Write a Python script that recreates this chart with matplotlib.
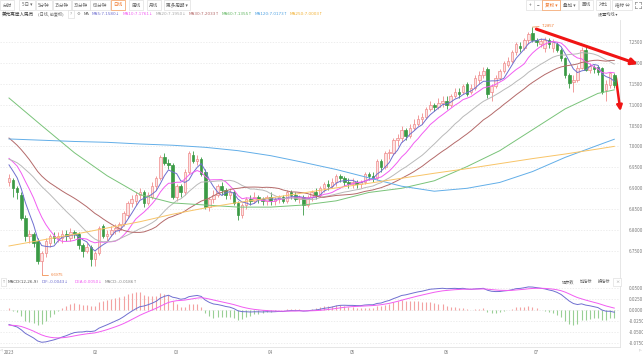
import numpy as np
import pandas as pd
import matplotlib
matplotlib.use("Agg")
import matplotlib.pyplot as plt
from matplotlib.lines import Line2D

plt.rcParams['font.family'] = ['Noto Sans CJK SC', 'DejaVu Sans']

# daily candles, 2023-01-03 .. 2023-07-28
opens = [6.915, 6.920, 6.900, 6.885, 6.830, 6.785, 6.790, 6.775, 6.725, 6.745,
         6.770, 6.785, 6.780, 6.780, 6.790, 6.782, 6.795, 6.790, 6.765, 6.750,
         6.760, 6.730, 6.745, 6.810, 6.785, 6.790, 6.800, 6.800, 6.815, 6.835,
         6.865, 6.870, 6.885, 6.890, 6.865, 6.880, 6.905, 6.925, 6.975, 6.960,
         6.955, 6.880, 6.905, 6.890, 6.940, 6.980, 6.965, 6.970, 6.940, 6.855,
         6.875, 6.885, 6.905, 6.895, 6.885, 6.890, 6.865, 6.835, 6.860, 6.875,
         6.870, 6.880, 6.875, 6.870, 6.880, 6.870, 6.875, 6.880, 6.870, 6.890,
         6.885, 6.875, 6.880, 6.860, 6.880, 6.890, 6.885, 6.900, 6.910, 6.905,
         6.915, 6.930, 6.925, 6.915, 6.910, 6.915, 6.910, 6.915, 6.935, 6.930,
         6.925, 6.965, 6.950, 6.985, 6.985, 7.015, 7.020, 7.040, 7.025, 7.045,
         7.055, 7.065, 7.070, 7.090, 7.100, 7.095, 7.105, 7.110, 7.100, 7.120,
         7.130, 7.130, 7.150, 7.130, 7.140, 7.160, 7.170, 7.185, 7.130, 7.145,
         7.165, 7.180, 7.195, 7.205, 7.225, 7.240, 7.235, 7.255, 7.272, 7.255,
         7.245, 7.235, 7.255, 7.235, 7.245, 7.232, 7.212, 7.172, 7.155, 7.160,
         7.188, 7.232, 7.183, 7.190, 7.190, 7.188, 7.135, 7.148, 7.172]
highs = [6.935, 6.925, 6.905, 6.890, 6.835, 6.800, 6.795, 6.780, 6.750, 6.780,
         6.790, 6.795, 6.795, 6.800, 6.800, 6.805, 6.800, 6.795, 6.770, 6.770,
         6.765, 6.750, 6.810, 6.815, 6.800, 6.810, 6.815, 6.820, 6.845, 6.870,
         6.885, 6.890, 6.900, 6.895, 6.890, 6.915, 6.930, 6.980, 6.985, 6.970,
         6.960, 6.910, 6.910, 6.945, 6.990, 6.990, 6.980, 6.975, 6.945, 6.880,
         6.895, 6.910, 6.915, 6.900, 6.900, 6.895, 6.870, 6.865, 6.880, 6.885,
         6.890, 6.885, 6.880, 6.885, 6.890, 6.880, 6.885, 6.885, 6.895, 6.895,
         6.890, 6.885, 6.885, 6.885, 6.895, 6.900, 6.905, 6.915, 6.920, 6.925,
         6.935, 6.935, 6.930, 6.925, 6.925, 6.920, 6.920, 6.940, 6.940, 6.940,
         6.970, 6.970, 6.990, 6.995, 7.020, 7.030, 7.050, 7.045, 7.055, 7.065,
         7.075, 7.080, 7.095, 7.110, 7.105, 7.115, 7.120, 7.120, 7.125, 7.140,
         7.140, 7.150, 7.155, 7.150, 7.170, 7.180, 7.190, 7.190, 7.150, 7.170,
         7.185, 7.205, 7.215, 7.230, 7.250, 7.250, 7.260, 7.275, 7.2857, 7.260,
         7.260, 7.262, 7.260, 7.258, 7.250, 7.235, 7.215, 7.175, 7.170, 7.195,
         7.238, 7.240, 7.200, 7.195, 7.195, 7.190, 7.160, 7.178, 7.175]
lows = [6.905, 6.880, 6.875, 6.825, 6.775, 6.770, 6.760, 6.720, 6.6975, 6.735,
        6.760, 6.770, 6.772, 6.770, 6.775, 6.775, 6.780, 6.755, 6.735, 6.745,
        6.715, 6.715, 6.740, 6.780, 6.775, 6.785, 6.790, 6.795, 6.810, 6.830,
        6.855, 6.860, 6.875, 6.855, 6.860, 6.875, 6.895, 6.920, 6.955, 6.945,
        6.875, 6.870, 6.880, 6.885, 6.935, 6.960, 6.955, 6.930, 6.850, 6.845,
        6.865, 6.880, 6.885, 6.875, 6.875, 6.860, 6.825, 6.830, 6.850, 6.860,
        6.865, 6.865, 6.860, 6.860, 6.860, 6.860, 6.865, 6.865, 6.865, 6.875,
        6.870, 6.865, 6.835, 6.855, 6.870, 6.875, 6.880, 6.890, 6.895, 6.900,
        6.905, 6.915, 6.905, 6.900, 6.900, 6.900, 6.900, 6.910, 6.920, 6.915,
        6.920, 6.940, 6.945, 6.970, 6.980, 7.000, 7.010, 7.015, 7.020, 7.040,
        7.050, 7.055, 7.065, 7.085, 7.085, 7.090, 7.095, 7.090, 7.095, 7.115,
        7.115, 7.125, 7.120, 7.125, 7.135, 7.150, 7.165, 7.115, 7.110, 7.140,
        7.160, 7.175, 7.190, 7.200, 7.220, 7.225, 7.230, 7.245, 7.250, 7.240,
        7.238, 7.225, 7.235, 7.225, 7.225, 7.205, 7.165, 7.140, 7.130, 7.155,
        7.185, 7.180, 7.175, 7.175, 7.170, 7.125, 7.110, 7.140, 7.140]
closes = [6.925, 6.900, 6.890, 6.830, 6.785, 6.790, 6.770, 6.725, 6.745, 6.775,
          6.785, 6.780, 6.785, 6.790, 6.785, 6.795, 6.790, 6.765, 6.750, 6.760,
          6.730, 6.745, 6.805, 6.785, 6.790, 6.800, 6.805, 6.815, 6.840, 6.865,
          6.875, 6.885, 6.890, 6.865, 6.885, 6.905, 6.925, 6.975, 6.960, 6.955,
          6.880, 6.905, 6.890, 6.940, 6.985, 6.965, 6.970, 6.935, 6.855, 6.875,
          6.885, 6.905, 6.895, 6.885, 6.890, 6.865, 6.835, 6.860, 6.875, 6.870,
          6.880, 6.875, 6.870, 6.880, 6.870, 6.875, 6.880, 6.870, 6.890, 6.885,
          6.875, 6.880, 6.860, 6.880, 6.890, 6.885, 6.900, 6.910, 6.905, 6.915,
          6.930, 6.925, 6.915, 6.910, 6.915, 6.910, 6.915, 6.935, 6.930, 6.925,
          6.965, 6.950, 6.985, 6.985, 7.015, 7.020, 7.040, 7.025, 7.045, 7.055,
          7.065, 7.070, 7.090, 7.100, 7.095, 7.105, 7.110, 7.100, 7.120, 7.130,
          7.125, 7.145, 7.125, 7.140, 7.165, 7.170, 7.180, 7.125, 7.145, 7.165,
          7.180, 7.200, 7.205, 7.225, 7.245, 7.235, 7.255, 7.270, 7.255, 7.250,
          7.252, 7.255, 7.245, 7.250, 7.232, 7.212, 7.172, 7.152, 7.160, 7.188,
          7.232, 7.183, 7.193, 7.185, 7.178, 7.130, 7.150, 7.175, 7.148]
# closes before the window (late Nov / Dec 2022), needed by the short MAs and MACD
hist_closes = [7.150, 7.160, 7.145, 7.135, 7.160, 7.185, 7.150, 7.075, 7.040, 7.015,
               6.975, 6.985, 6.975, 6.965, 6.960, 6.965, 6.955, 6.960, 6.965, 6.970,
               6.985, 6.990, 6.995, 6.985, 6.980, 6.975, 6.970, 6.960, 6.950]

# long MAs
long_ma_idx = [0, 8, 16, 24, 32, 40, 48, 56, 64, 72, 80, 88, 96, 104, 112, 120, 128, 136, 144, 148]
ma60_vals = [7.116, 7.050, 6.985, 6.930, 6.885, 6.865, 6.860, 6.855, 6.855, 6.860,
             6.870, 6.890, 6.900, 6.918, 6.952, 6.990, 7.040, 7.090, 7.127, 7.1355]
ma120_vals = [7.018, 7.015, 7.012, 7.010, 7.006, 7.003, 6.998, 6.990, 6.978, 6.962,
              6.945, 6.925, 6.905, 6.893, 6.900, 6.914, 6.940, 6.974, 7.003, 7.0173]
ma250_vals = [6.762, 6.776, 6.790, 6.805, 6.820, 6.838, 6.853, 6.866, 6.877, 6.889,
              6.901, 6.912, 6.924, 6.936, 6.947, 6.959, 6.971, 6.982, 6.994, 7.0003]

month_pos = [0, 21, 41, 64, 84, 107, 129]
month_labels = ['2023', '02', '03', '04', '05', '06', '07']
price_ticks = [6.75, 6.80, 6.85, 6.90, 6.95, 7.00, 7.05, 7.10, 7.15, 7.20, 7.25]
macd_ticks = [-0.075, -0.05, -0.025, 0.0, 0.025, 0.05]

W, H = 643, 355
FS = 3.3
SF = 3.0
fig = plt.figure(figsize=(W / 100, H / 100), dpi=100)


def fx(px):
    return px / W


def fy(py):
    return 1 - py / H


ax = fig.add_axes([0, fy(278), fx(620), (278 - 20) / H])
axm = fig.add_axes([0, fy(347), fx(620), (347 - 278) / H])

o = np.array(opens)
h = np.array(highs)
l = np.array(lows)
c = np.array(closes)
n = len(c)
x = np.arange(n)
up = c >= o

UP_EDGE, UP_FACE, DOWN = '#ef8c8c', '#fde3e3', '#3a9a45'
wick_col = np.where(up, UP_EDGE, DOWN)
ax.vlines(x, l, h, colors=wick_col, lw=0.6, zorder=3)
body_h = np.maximum(np.abs(c - o), 0.0015)
ax.bar(x, body_h, bottom=np.minimum(o, c), width=0.62,
       color=np.where(up, UP_FACE, DOWN), edgecolor=wick_col, linewidth=0.5, zorder=4)

# moving averages
full = pd.Series(hist_closes + closes)
k = len(hist_closes)
ma_cols = {5: '#6f6fd0', 10: '#f25cf2', 20: '#b9b9b9', 30: '#b46a6a'}
for p, col in ma_cols.items():
    ma = full.rolling(p).mean().values[k:]
    ax.plot(x, ma, color=col, lw=0.7, zorder=5)
ax.plot(long_ma_idx, ma60_vals, color='#79c379', lw=0.7, zorder=5)
ax.plot(long_ma_idx, ma120_vals, color='#62aee8', lw=0.7, zorder=5)
ax.plot(long_ma_idx, ma250_vals, color='#f8c467', lw=0.7, zorder=5)

# high / low marks
hi = int(np.argmax(h))
lo = int(np.argmin(l))
ax.annotate(f'{h[hi]:.4f}', xy=(hi, h[hi]), xytext=(hi + 2.3, h[hi] + 0.002),
            fontsize=SF, color='#f07a30', va='center',
            arrowprops=dict(arrowstyle='-', color='#f07a30', lw=0.5, shrinkA=0, shrinkB=0))
ax.annotate(f'{l[lo]:.4f}', xy=(lo, l[lo]), xytext=(lo + 2.3, l[lo] - 0.004),
            fontsize=SF, color='#f07a30', va='center',
            arrowprops=dict(arrowstyle='-', color='#f07a30', lw=0.5, shrinkA=0, shrinkB=0,
                            connectionstyle='angle,angleA=0,angleB=90,rad=0'))

# red trend arrows
ax.annotate('', xy=(154.4, 7.195), xytext=(128.3, 7.283), annotation_clip=False,
            arrowprops=dict(arrowstyle='-|>', color='#f01414', lw=2.2, mutation_scale=9))
ax.annotate('', xy=(149.6, 7.078), xytext=(148.3, 7.171), annotation_clip=False,
            arrowprops=dict(arrowstyle='-|>', color='#f01414', lw=1.8, mutation_scale=8))

ax.set_xlim(-2.2, 149.4)
ax.set_ylim(6.6854, 7.3026)
ax.set_yticks(price_ticks)
ax.set_yticklabels([f'{t:.4f}' for t in price_ticks])
ax.yaxis.tick_right()
ax.tick_params(axis='y', length=0, pad=6, labelsize=FS, labelcolor='#777777')
ax.set_xticks([])
ax.grid(axis='y', color='#e6e6e6', lw=0.5, ls=(0, (2, 2)))
for s in ['top', 'left']:
    ax.spines[s].set_visible(False)
for s in ['right', 'bottom']:
    ax.spines[s].set_color('#e2e2e2')
    ax.spines[s].set_linewidth(0.6)

# MACD panel
ema12 = full.ewm(span=12, adjust=False).mean()
ema26 = full.ewm(span=26, adjust=False).mean()
dif = ema12 - ema26
dea = dif.ewm(span=9, adjust=False).mean()
bar = 2 * (dif - dea)
dif, dea, bar = dif.values[k:], dea.values[k:], bar.values[k:]
axm.vlines(x, 0, bar, colors=np.where(bar >= 0, '#f3a2a2', '#99cf95'), lw=0.8)
axm.plot(x, dif, color='#6f6fd0', lw=0.7)
axm.plot(x, dea, color='#f25cf2', lw=0.7)
axm.set_xlim(-2.2, 149.4)
axm.set_ylim(-0.085, 0.072)
axm.set_yticks(macd_ticks)
axm.set_yticklabels([f'{t:.4f}' for t in macd_ticks])
axm.yaxis.tick_right()
axm.tick_params(axis='y', length=0, pad=6, labelsize=FS, labelcolor='#777777')
axm.set_xticks(month_pos)
axm.set_xticklabels(month_labels)
axm.tick_params(axis='x', length=0, pad=2.5, labelsize=FS, labelcolor='#777777')
axm.grid(axis='y', color='#e6e6e6', lw=0.5, ls=(0, (2, 2)))
for s in ['top', 'left']:
    axm.spines[s].set_visible(False)
for s in ['right', 'bottom']:
    axm.spines[s].set_color('#e2e2e2')
    axm.spines[s].set_linewidth(0.6)

# toolbar
box = dict(boxstyle='square,pad=0.5', fc='white', ec='#d8d8d8', lw=0.4)
obox = dict(boxstyle='square,pad=0.5', fc='white', ec='#f39a5a', lw=0.5)
tools = [('分时', 7), ('5日 ▾', 27), ('5分钟', 44), ('15分钟', 62), ('30分钟', 81),
         ('60分钟', 100), ('周线', 136), ('月线', 154), ('更多周期 ▾', 177)]
for t, px in tools:
    fig.text(fx(px), fy(5), t, fontsize=FS, color='#666666', ha='center', va='center', bbox=box)
fig.text(fx(118), fy(5), '日线', fontsize=FS, color='#f07a30', ha='center', va='center', bbox=obox)
rtools = [('+', 530), ('−', 538), ('叠加 ▾', 569), ('画线', 586), ('对比', 603), ('指标 ⇔', 622)]
for t, px in rtools:
    fig.text(fx(px), fy(5), t, fontsize=FS, color='#666666', ha='center', va='center', bbox=box)
fig.text(fx(551), fy(5), '复权 ▾', fontsize=FS, color='#f07a30', ha='center', va='center', bbox=obox)
# full-screen icon (four corners)
for cx, cy, dx, dy in [(635, 2, 1, 1), (641, 2, -1, 1), (635, 8, 1, -1), (641, 8, -1, -1)]:
    fig.add_artist(Line2D([fx(cx), fx(cx + 2 * dx)], [fy(cy), fy(cy)], color='#888888', lw=0.5))
    fig.add_artist(Line2D([fx(cx), fx(cx)], [fy(cy), fy(cy + 2 * dy)], color='#888888', lw=0.5))

# info line
fig.text(fx(2), fy(14), '美元离岸人民币', fontsize=FS, color='#333333', va='center')
fig.text(fx(38), fy(14), '(日线, 前复权)', fontsize=SF, color='#666666', va='center')
fig.text(fx(71), fy(14), '?', fontsize=SF, color='#888888', va='center', ha='center', bbox=box)
fig.text(fx(77), fy(14), '⚙', fontsize=SF, color='#888888', va='center', family=['DejaVu Sans'])
fig.text(fx(84), fy(14), 'MA', fontsize=SF, color='#555555', va='center')
ma_head = [('MA5:7.1580↓', '#6f6fd0', 92), ('MA10:7.1761↓', '#f25cf2', 123),
           ('MA20:7.1950↓', '#a8a8a8', 156), ('MA30:7.2033↑', '#b46a6a', 189),
           ('MA60:7.1355↑', '#5fb55f', 222), ('MA120:7.0173↑', '#4fa2e2', 255),
           ('MA250:7.0003↑', '#f2b134', 290)]
for t, col, px in ma_head:
    fig.text(fx(px), fy(14), t, fontsize=SF, color=col, va='center', family=['DejaVu Sans'])
fig.text(fx(617), fy(14), '设置均线 ▾', fontsize=SF, color='#555555', va='center', ha='right')

# MACD header
fig.text(fx(3.5), fy(282), 'T', fontsize=SF - 0.6, color='#888888', va='center', ha='center', bbox=box)
fig.text(fx(8), fy(282), 'MACD(12,26,9)', fontsize=SF, color='#555555', va='center', family=['DejaVu Sans'])
fig.text(fx(42), fy(282), 'DIF:-0.0043↓', fontsize=SF, color='#6f6fd0', va='center', family=['DejaVu Sans'])
fig.text(fx(75), fy(282), 'DEA:0.0050↓', fontsize=SF, color='#f25cf2', va='center', family=['DejaVu Sans'])
fig.text(fx(105), fy(282), 'MACD:-0.0186↑', fontsize=SF, color='#888888', va='center', family=['DejaVu Sans'])
for t, px in [('调参数', 568), ('加指标', 586), ('换指标', 604)]:
    fig.text(fx(px), fy(282), t, fontsize=SF, color='#666666', va='center', ha='center')
fig.text(fx(617), fy(282), '×', fontsize=SF, color='#888888', va='center', ha='center', bbox=box)

fig.text(fx(0), fy(351), '◁', fontsize=SF - 0.5, color='#999999', va='center', family=['DejaVu Sans'])
fig.text(fx(642), fy(351), '▷', fontsize=SF - 0.5, color='#999999', va='center', ha='right', family=['DejaVu Sans'])

fig.savefig('out.png', dpi=100, facecolor='white')
